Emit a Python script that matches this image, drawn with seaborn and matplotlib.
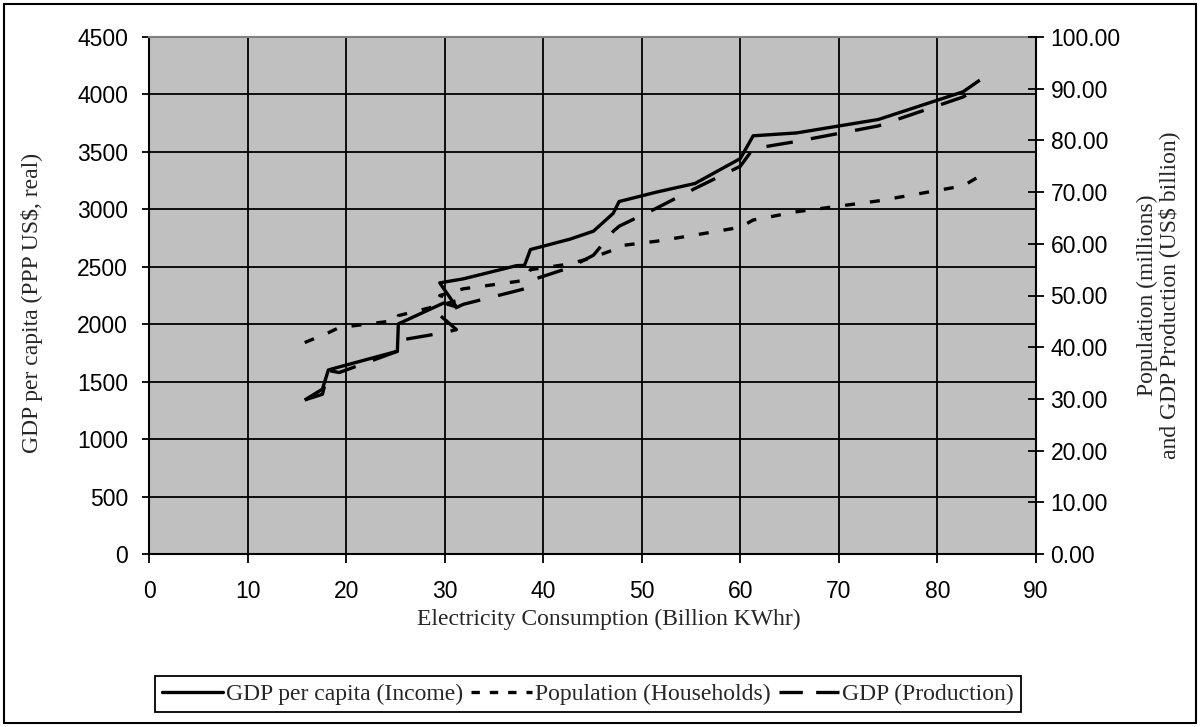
import matplotlib
matplotlib.use("Agg")
import matplotlib.pyplot as plt
import seaborn as sns
import pandas as pd
from matplotlib.patches import Rectangle
from matplotlib.lines import Line2D

# Electricity consumption (billion kWh), in time order
consumption = [15.8, 17.6, 18.2, 19.3, 25.2, 25.3, 29.9, 31.2, 29.5, 31.9, 37.3, 38.1,
               38.7, 42.7, 45.1, 47.1, 47.7, 51.5, 55.4, 60.0, 61.3, 65.7, 74.0, 82.6, 84.3]
# GDP per capita (PPP US$, real) - left axis
gdp_per_capita = [1340, 1435, 1602, 1628, 1765, 2003, 2185, 2150, 2360, 2395, 2510, 2512,
                  2650, 2740, 2810, 2965, 3068, 3150, 3225, 3442, 3640, 3665, 3782, 4023, 4125]
# Population (millions) - right axis
population = [40.9, 42.3, 42.8, 43.8, 45.2, 46.1, 48.3, 49.0, 50.0, 51.3, 52.7, 53.0,
              55.0, 56.1, 57.4, 58.8, 59.6, 60.5, 61.7, 63.2, 64.6, 66.2, 68.3, 71.2, 73.1]
# GDP production (US$ billion) - right axis
gdp_production = [29.8, 30.9, 35.5, 35.1, 39.2, 41.3, 42.8, 43.4, 46.2, 48.3, 50.9, 51.3,
                  52.9, 55.4, 57.8, 62.4, 63.4, 66.9, 70.7, 75.0, 78.4, 79.8, 82.8, 88.4, 90.3]

series_labels = ["GDP per capita (Income)", "Population (Households)", "GDP (Production)"]
x_ticks = list(range(0, 91, 10))
left_ticks = list(range(0, 4501, 500))
right_ticks = list(range(0, 101, 10))

df = pd.DataFrame({"x": consumption, "gpc": gdp_per_capita,
                   "pop": population, "gdp": gdp_production})

sns.set_style("white")
plt.rcParams["font.family"] = ["Liberation Sans", "DejaVu Sans"]

fig = plt.figure(figsize=(12, 7.27), dpi=100)
ax = fig.add_axes([149 / 1200, 1 - 554 / 727, (1036 - 149) / 1200, (554 - 37) / 727])
ax.set_facecolor("#C0C0C0")
ax2 = ax.twinx()

LW = 2.4
sns.lineplot(data=df, x="x", y="gpc", sort=False, estimator=None, ax=ax,
             color="black", linewidth=LW, legend=False)
sns.lineplot(data=df, x="x", y="pop", sort=False, estimator=None, ax=ax2,
             color="black", linewidth=LW, legend=False)
sns.lineplot(data=df, x="x", y="gdp", sort=False, estimator=None, ax=ax2,
             color="black", linewidth=LW, legend=False)
l_gpc = ax.get_lines()[0]
l_pop, l_gdp = ax2.get_lines()[0], ax2.get_lines()[1]
l_gpc.set_solid_capstyle("butt")
l_pop.set_linestyle((0, (3.0, 4.5)))
l_gdp.set_linestyle((0, (8.0, 5.5)))
for l in (l_pop, l_gdp):
    l.set_dash_capstyle("butt")

ax.set_xlim(0, 90)
ax.set_ylim(0, 4500)
ax2.set_ylim(0, 100)
ax.set_xticks(x_ticks)
ax.set_yticks(left_ticks)
ax2.set_yticks(right_ticks)
ax2.set_yticklabels([f"{v:.2f}" for v in right_ticks])

ax.grid(True, color="black", linewidth=1.3)
ax.set_axisbelow(True)
ax2.grid(False)

for a in (ax, ax2):
    for s in a.spines.values():
        s.set_visible(False)
ax.spines["left"].set_visible(True)
ax.spines["bottom"].set_visible(True)
ax.spines["top"].set_visible(True)
ax.spines["left"].set_color("black")
ax.spines["bottom"].set_color("black")
ax.spines["top"].set_color("#808080")
for s in ("left", "bottom", "top"):
    ax.spines[s].set_linewidth(1.5)
ax2.spines["right"].set_visible(True)
ax2.spines["right"].set_color("black")
ax2.spines["right"].set_linewidth(1.5)

tick_font = 16.5
ax.tick_params(axis="y", direction="out", length=5, width=1.3, pad=10,
               labelsize=tick_font, colors="black", left=True)
ax.tick_params(axis="x", direction="out", length=6.5, width=1.3, pad=12,
               labelsize=tick_font, colors="black", bottom=True)
ax2.tick_params(axis="y", direction="inout", length=11, width=1.3, pad=5,
                labelsize=tick_font, colors="black", right=True)

serif = ["Liberation Serif", "DejaVu Serif"]
lab_font = 17
ax.set_xlabel("Electricity Consumption (Billion KWhr)", family=serif,
              fontsize=lab_font)
ax.xaxis.set_label_coords((609 - 149) / 887, -(609 - 554) / 517)
ax.set_ylabel("GDP per capita (PPP US$, real)", family=serif, fontsize=lab_font)
ax.yaxis.set_label_coords(-(149 - 43) / 887, (554 - 303) / 517)
ax2.set_ylabel("Population (millions)\nand GDP Production (US$ billion)",
               family=serif, fontsize=lab_font, linespacing=1.0)
ax2.yaxis.set_label_coords(1 + (1137 - 1036) / 887, (554 - 295) / 517)

handles = [
    Line2D([], [], color="black", linewidth=LW, linestyle="-"),
    Line2D([], [], color="black", linewidth=LW, linestyle=(0, (2.5, 3.0))),
    Line2D([], [], color="black", linewidth=LW, linestyle=(0, (7.0, 4.0))),
]
leg = fig.legend(handles, series_labels, loc="center", ncol=3,
                 bbox_to_anchor=(588 / 1200, 1 - 694 / 727),
                 prop={"family": serif, "size": 17}, frameon=True,
                 fancybox=False, edgecolor="black", framealpha=1,
                 handlelength=2.6, handletextpad=0.1, columnspacing=0.35,
                 borderpad=0.3)
leg.get_frame().set_linewidth(1.3)

fig.patches.append(Rectangle((4 / 1200, 4 / 727), 1192 / 1200, 719 / 727,
                             transform=fig.transFigure, fill=False,
                             edgecolor="black", linewidth=1.5))

fig.savefig("out.png", dpi=100)
